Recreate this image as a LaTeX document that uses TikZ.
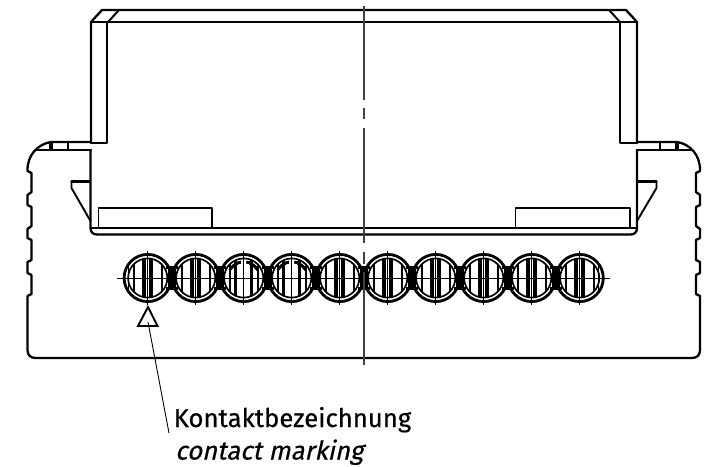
\documentclass[tikz,border=0pt]{standalone}
\usepackage{fontspec}
\setmainfont[FakeBold=0.5]{Fira Sans}
\newfontfamily\slantfont[FakeSlant=0.22,FakeBold=0.5]{Fira Sans}
\tikzset{
  heavy/.style={line width=2.3pt,line join=round,line cap=round,black},
  medium/.style={line width=1.9pt,line join=round,line cap=round,black},
  thin line/.style={line width=0.9pt,black},
  centre/.style={line width=1.1pt,black!75},
  label/.style={font=\fontsize{25.7}{30}\selectfont,anchor=base west,inner sep=0pt},
}
\newcommand{\contactA}[1]{%
  \begin{scope}[shift={(#1,278)}]
    \begin{scope}
      \clip (0,0) circle (19.5);
      \foreach \dx/\w in {-3.5/3.6,3.5/3.6,-14/1.8,14/1.8}
        \draw[line width=\w pt] (\dx,-20) -- (\dx,20);
      \draw[line width=1pt] (0,-20) -- (0,-14) (0,-9) -- (0,-4) (0,4) -- (0,9) (0,14) -- (0,20);
    \end{scope}
  \end{scope}}
\newcommand{\contactB}[1]{%
  \begin{scope}[shift={(#1,278)}]
    \begin{scope}
      \clip (0,0) circle (19.5);
      \foreach \dx/\w in {-14/1.8,-8/2.8,8/2.8,14/1.8}
        \draw[line width=\w pt] (\dx,-20) -- (\dx,20);
      \draw[line width=2.2pt] (-14,-8) .. controls (-10,-14) and (-6,-15) .. (-3,-16);
      \draw[line width=2.2pt] (14,-8) .. controls (10,-14) and (6,-15) .. (3,-16);
      \draw[line width=1pt] (0,-20) -- (0,-11) (0,-5) -- (0,5) (0,11) -- (0,20);
    \end{scope}
  \end{scope}}
\begin{document}
\begin{tikzpicture}[x=1pt,y=-1pt]
\useasboundingbox (0,0) rectangle (719,466);
% upper housing
\draw[heavy] (91,143) -- (91,22) -- (102,10) -- (626,10) -- (637,22) -- (637,143);
\draw[heavy] (91,22) -- (637,22);
\draw[medium] (108,22) -- (119,10);
\draw[medium] (620,22) -- (609,10);
\draw[medium] (107,22) -- (107,143) -- (91,143);
\draw[medium] (620,22) -- (620,143) -- (637,143);
% lower housing outline
\draw[heavy] (91,142) -- (51,142) .. controls (38,144) and (27,155) .. (27.5,171)
  -- (31.5,173) -- (31.5,192) -- (27.5,195) -- (27.5,205) -- (31.5,207) -- (31.5,226) -- (27.5,229)
  -- (27.5,238) -- (31.5,240) -- (31.5,260) -- (27.5,262) -- (27.5,273) -- (31.5,275) -- (31.5,294) -- (27.5,296)
  -- (27.5,350) .. controls (27.5,355) and (30.5,358) .. (35.5,358) -- (692,358)
  .. controls (697,358) and (700,355) .. (700,350) -- (700,296)
  -- (696,294) -- (696,275) -- (700,273) -- (700,262) -- (696,260) -- (696,240) -- (700,238)
  -- (700,229) -- (696,226) -- (696,207) -- (700,205) -- (700,195) -- (696,192) -- (696,173) -- (700,171)
  .. controls (700.5,155) and (690,144) .. (677,142) -- (637,142);
% top band of lower housing
\draw[heavy] (37,150) -- (91,150);
\draw[heavy] (637,150) -- (691,150);
\draw[line width=3.4pt] (51,142) -- (51,150);
\draw[line width=3.4pt] (677,142) -- (677,150);
\draw[medium] (68,142) -- (68,150);
\draw[medium] (660,142) -- (660,150);
% sides of the inner part, wedges
\draw[heavy] (90.5,150) -- (90.5,228) .. controls (90.5,232) and (93,234.5) .. (97,234.5) -- (630.5,234.5)
   .. controls (634.5,234.5) and (637,232) .. (637,228) -- (637,150);
\draw[heavy] (91,228) -- (637,228);
\draw[heavy] (90,181.5) -- (71.5,181.5);
\draw[medium] (71.5,181.5) -- (71.5,188) -- (90.5,221);
\draw[heavy] (638,181.5) -- (656.5,181.5);
\draw[medium] (656.5,181.5) -- (656.5,188) -- (637,221);
% rectangles
\draw[medium] (98.5,228) -- (98.5,208) -- (212,208) -- (212,228);
\draw[medium] (515.5,228) -- (515.5,208) -- (630,208) -- (630,228);
% contacts
\foreach \c in {147.7,195.7,339.7,387.7,435.7,483.7,531.7,579.7} \contactA{\c}
\foreach \c in {243.7,291.7} \contactB{\c}
\draw[line width=1.5pt] (128.7,265) -- (128.7,291);
\draw[line width=1.5pt] (598.7,265) -- (598.7,291);
\foreach \c in {147.7,195.7,243.7,291.7,339.7,387.7,435.7,483.7,531.7,579.7}{
  \draw[line width=2.8pt] (\c,278) circle (23.6);
  \draw[line width=1.7pt] (\c,278) circle (19.6);
  \draw[line width=0.9pt] (\c,251) -- (\c,305);
}
\foreach \m in {171.7,219.7,267.7,315.7,363.7,411.7,459.7,507.7,555.7}{
  \fill (\m-4,268) rectangle (\m+4,288);
  \draw[line width=2.4pt] (\m-6,267.5) -- (\m+6,267.5) (\m-6,288.5) -- (\m+6,288.5);
}
\draw[line width=1pt] (117,278) -- (610,278);
% centre line
\draw[centre] (364,6) -- (364,100) (364,108) -- (364,119) (364,128) -- (364,243) (364,252) -- (364,264) (364,272) -- (364,365);
% marker
\draw[line width=1.9pt,line join=miter,fill=white] (148,307) -- (157.5,326) -- (138,326) -- cycle;
% text
\node[label] (de) at (173.5,427) {Kontaktbezeichnung};
\node[label] (en) at (175,459.5) {\slantfont contact marking};
\coordinate (tip) at (148,322);
\coordinate (foot) at (169,433);
\draw[thin line] (tip) -- (foot);
\end{tikzpicture}
\end{document}
